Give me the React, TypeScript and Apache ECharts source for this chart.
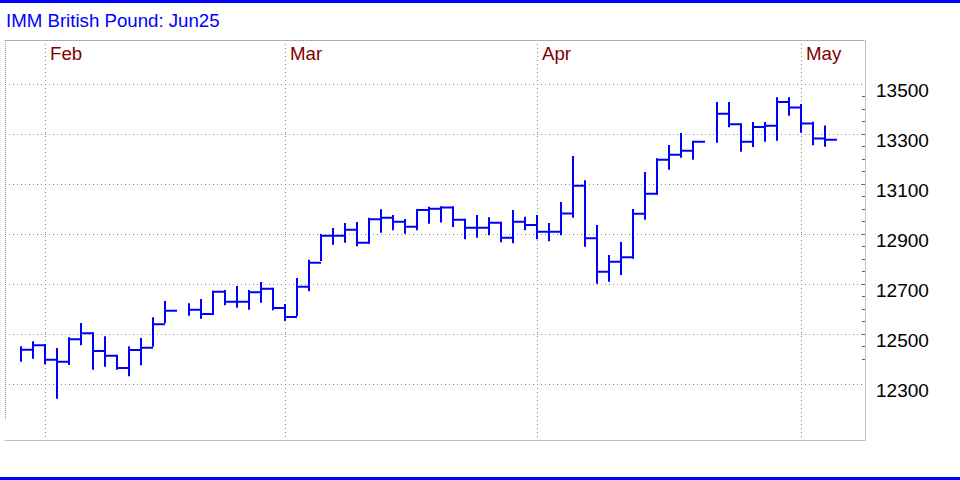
import React, { useEffect, useRef } from "react";
import * as echarts from "echarts";

const chartTitle = "IMM British Pound: Jun25";

// One slot per trading day (holidays kept as empty slots)
const dates = [
  "2025-01-29", "2025-01-30", "2025-01-31",
  "2025-02-03", "2025-02-04", "2025-02-05", "2025-02-06", "2025-02-07",
  "2025-02-10", "2025-02-11", "2025-02-12", "2025-02-13", "2025-02-14",
  "2025-02-17", "2025-02-18", "2025-02-19", "2025-02-20", "2025-02-21",
  "2025-02-24", "2025-02-25", "2025-02-26", "2025-02-27", "2025-02-28",
  "2025-03-03", "2025-03-04", "2025-03-05", "2025-03-06", "2025-03-07",
  "2025-03-10", "2025-03-11", "2025-03-12", "2025-03-13", "2025-03-14",
  "2025-03-17", "2025-03-18", "2025-03-19", "2025-03-20", "2025-03-21",
  "2025-03-24", "2025-03-25", "2025-03-26", "2025-03-27", "2025-03-28",
  "2025-03-31",
  "2025-04-01", "2025-04-02", "2025-04-03", "2025-04-04",
  "2025-04-07", "2025-04-08", "2025-04-09", "2025-04-10", "2025-04-11",
  "2025-04-14", "2025-04-15", "2025-04-16", "2025-04-17", "2025-04-18",
  "2025-04-21", "2025-04-22", "2025-04-23", "2025-04-24", "2025-04-25",
  "2025-04-28", "2025-04-29", "2025-04-30",
  "2025-05-01", "2025-05-02",
];

const highs: (number | null)[] = [
  12447, 12467, 12456,
  12440, 12483, 12540, 12503, 12487,
  12413, 12447, 12480, 12563, 12628,
  null, 12619, 12636, 12669, 12672,
  12688, 12672, 12704, 12681, 12616,
  12720, 12793, 12896, 12920, 12940,
  12944, 12961, 12995, 12972, 12956,
  12996, 13005, 13007, 13007, 12957,
  12972, 12963, 12945, 12992, 12965,
  12972,
  12940, 13024, 13208, 13111,
  12932, 12812, 12864, 12996, 13144,
  13199, 13252, 13300, 13269, null,
  13424, 13424, 13339, 13344, 13344,
  13443, 13443, 13416,
  13345, 13330,
];

const lows: (number | null)[] = [
  12393, 12405, 12383,
  12245, 12380, 12459, 12361, 12373,
  12361, 12335, 12379, 12453, 12547,
  null, 12577, 12565, 12580, 12619,
  12609, 12601, 12629, 12599, 12556,
  12576, 12675, 12796, 12861, 12869,
  12855, 12865, 12909, 12919, 12905,
  12919, 12945, 12950, 12932, 12883,
  12889, 12899, 12871, 12867, 12919,
  12883,
  12875, 12899, 12969, 12853,
  12705, 12713, 12740, 12805, 12961,
  13061, 13161, 13209, 13201, null,
  13269, 13331, 13233, 13252, 13273,
  13277, 13377, 13309,
  13259, 13253,
];

const closes: (number | null)[] = [
  12437, 12455, 12397,
  12389, 12479, 12503, 12432, 12413,
  12364, 12436, 12445, 12539, 12593,
  null, 12597, 12580, 12669, 12629,
  12629, 12667, 12681, 12604, 12568,
  12689, 12785, 12893, 12893, 12917,
  12865, 12959, 12965, 12949, 12929,
  12996, 13001, 13006, 12957, 12925,
  12925, 12945, 12885, 12949, 12936,
  12909,
  12909, 12982, 13093, 12883,
  12749, 12789, 12807, 12981, 13061,
  13197, 13217, 13233, 13269, null,
  13381, 13339, 13269, 13328, 13333,
  13428, 13406, 13342,
  13282, 13277,
];

const priceTicks = [12300, 12500, 12700, 12900, 13100, 13300, 13500];
const minorTicks = [
  12400, 12450, 12500, 12550, 12600, 12650, 12700, 12750, 12800, 12850,
  12900, 12950, 13000, 13050, 13100, 13150, 13200, 13250, 13300, 13350,
  13400, 13450,
];
const monthNames = ["Jan", "Feb", "Mar", "Apr", "May", "Jun", "Jul", "Aug", "Sep", "Oct", "Nov", "Dec"];

const FONT = "'Liberation Sans', Arial, sans-serif";

export default function App() {
  const ref = useRef<HTMLDivElement>(null);

  useEffect(() => {
    if (!ref.current) return;
    const chart = echarts.init(ref.current, undefined, { renderer: "svg" });

    // month boundaries: gridline sits just before the first trading day of the month
    const monthVals: number[] = [];
    const monthLabel = new Map<number, string>();
    for (let i = 1; i < dates.length; i++) {
      const m0 = Number(dates[i - 1].slice(5, 7));
      const m1 = Number(dates[i].slice(5, 7));
      if (m0 !== m1) {
        monthVals.push(i - 1);
        monthLabel.set(i - 1, monthNames[m1 - 1]);
      }
    }

    const data: number[][] = [];
    dates.forEach((_, i) => {
      const h = highs[i], l = lows[i], c = closes[i];
      if (h != null && l != null && c != null) data.push([i, h, l, c]);
    });

    const xMin = -4 / 3;
    const xMax = 211 / 3;
    const yMin = 12076;
    const yMax = 13676;

    chart.setOption({
      animation: false,
      backgroundColor: "#ffffff",
      title: {
        text: chartTitle,
        left: 6,
        top: 11,
        padding: 0,
        textStyle: { color: "#0000ff", fontSize: 18.67, fontWeight: "normal", fontFamily: FONT },
      },
      grid: { left: 5, right: 95, top: 40, bottom: 40, containLabel: false },
      xAxis: [
        {
          type: "value",
          position: "bottom",
          min: xMin,
          max: xMax,
          axisLine: { show: true, onZero: false, lineStyle: { color: "#c0c0c0", width: 1 } },
          axisTick: { show: false },
          axisLabel: { show: false },
          splitLine: { show: false },
        },
        {
          type: "value",
          position: "top",
          min: xMin,
          max: xMax,
          axisLine: { show: true, onZero: false, lineStyle: { color: "#999999", width: 1, type: [1, 1] } },
          axisTick: { show: false, customValues: monthVals },
          axisLabel: {
            show: true,
            inside: true,
            customValues: monthVals,
            formatter: (v: number) => monthLabel.get(Math.round(v)) || "",
            color: "#800000",
            fontSize: 18.67,
            fontFamily: FONT,
            align: "left",
            verticalAlign: "middle",
            margin: 13,
            padding: [0, 0, 0, 5],
          },
          splitLine: { show: true, lineStyle: { color: "#888888", width: 1, type: [1, 3] } },
        },
      ],
      yAxis: [
        {
          type: "value",
          position: "right",
          min: yMin,
          max: yMax,
          axisLine: { show: false },
          axisTick: { show: false, customValues: priceTicks },
          axisLabel: {
            show: true,
            customValues: priceTicks,
            formatter: (v: number) => String(v),
            color: "#000000",
            fontSize: 19,
            fontFamily: FONT,
            margin: 11,
            verticalAlign: "top",
            lineHeight: 13,
          },
          splitLine: { show: true, lineStyle: { color: "#888888", width: 1, type: [1, 3] } },
        },
        {
          type: "value",
          position: "right",
          min: yMin,
          max: yMax,
          axisLine: { show: true, onZero: false, lineStyle: { color: "#c0c0c0", width: 1 } },
          axisTick: { show: true, inside: true, length: 3, customValues: minorTicks, lineStyle: { color: "#666666" } },
          axisLabel: { show: false },
          splitLine: { show: false },
        },
      ],
      graphic: [
        { type: "rect", shape: { x: 0, y: 0, width: 960, height: 3 }, style: { fill: "#0000ff" }, silent: true },
        { type: "rect", shape: { x: 0, y: 477, width: 960, height: 3 }, style: { fill: "#0000ff" }, silent: true },
        {
          type: "line",
          shape: { x1: 5.5, y1: 40, x2: 5.5, y2: 420 },
          style: { stroke: "#999999", lineWidth: 1, lineDash: [1, 1] },
          silent: true,
        },
      ],
      series: [
        {
          type: "custom",
          xAxisIndex: 0,
          yAxisIndex: 0,
          encode: { x: 0, y: [1, 2, 3] },
          data,
          renderItem: (_params: any, api: any) => {
            const x = api.value(0);
            const h = api.value(1);
            const l = api.value(2);
            const c = api.value(3);
            const top = api.coord([x, h]);
            const bot = api.coord([x, l]);
            const c0 = api.coord([x, c]);
            const c1 = api.coord([x + 1, c]);
            const style = { stroke: "#0000ff", lineWidth: 2, fill: "none" };
            return {
              type: "group",
              children: [
                { type: "line", shape: { x1: top[0], y1: top[1] - 1, x2: bot[0], y2: bot[1] + 1 }, style },
                { type: "line", shape: { x1: c0[0], y1: c0[1], x2: c1[0], y2: c1[1] }, style },
              ],
            };
          },
        },
      ],
    });

    return () => chart.dispose();
  }, []);

  return (
    <div
      ref={ref}
      style={{ position: "fixed", left: 0, top: 0, width: 960, height: 480, background: "#fff" }}
    />
  );
}
